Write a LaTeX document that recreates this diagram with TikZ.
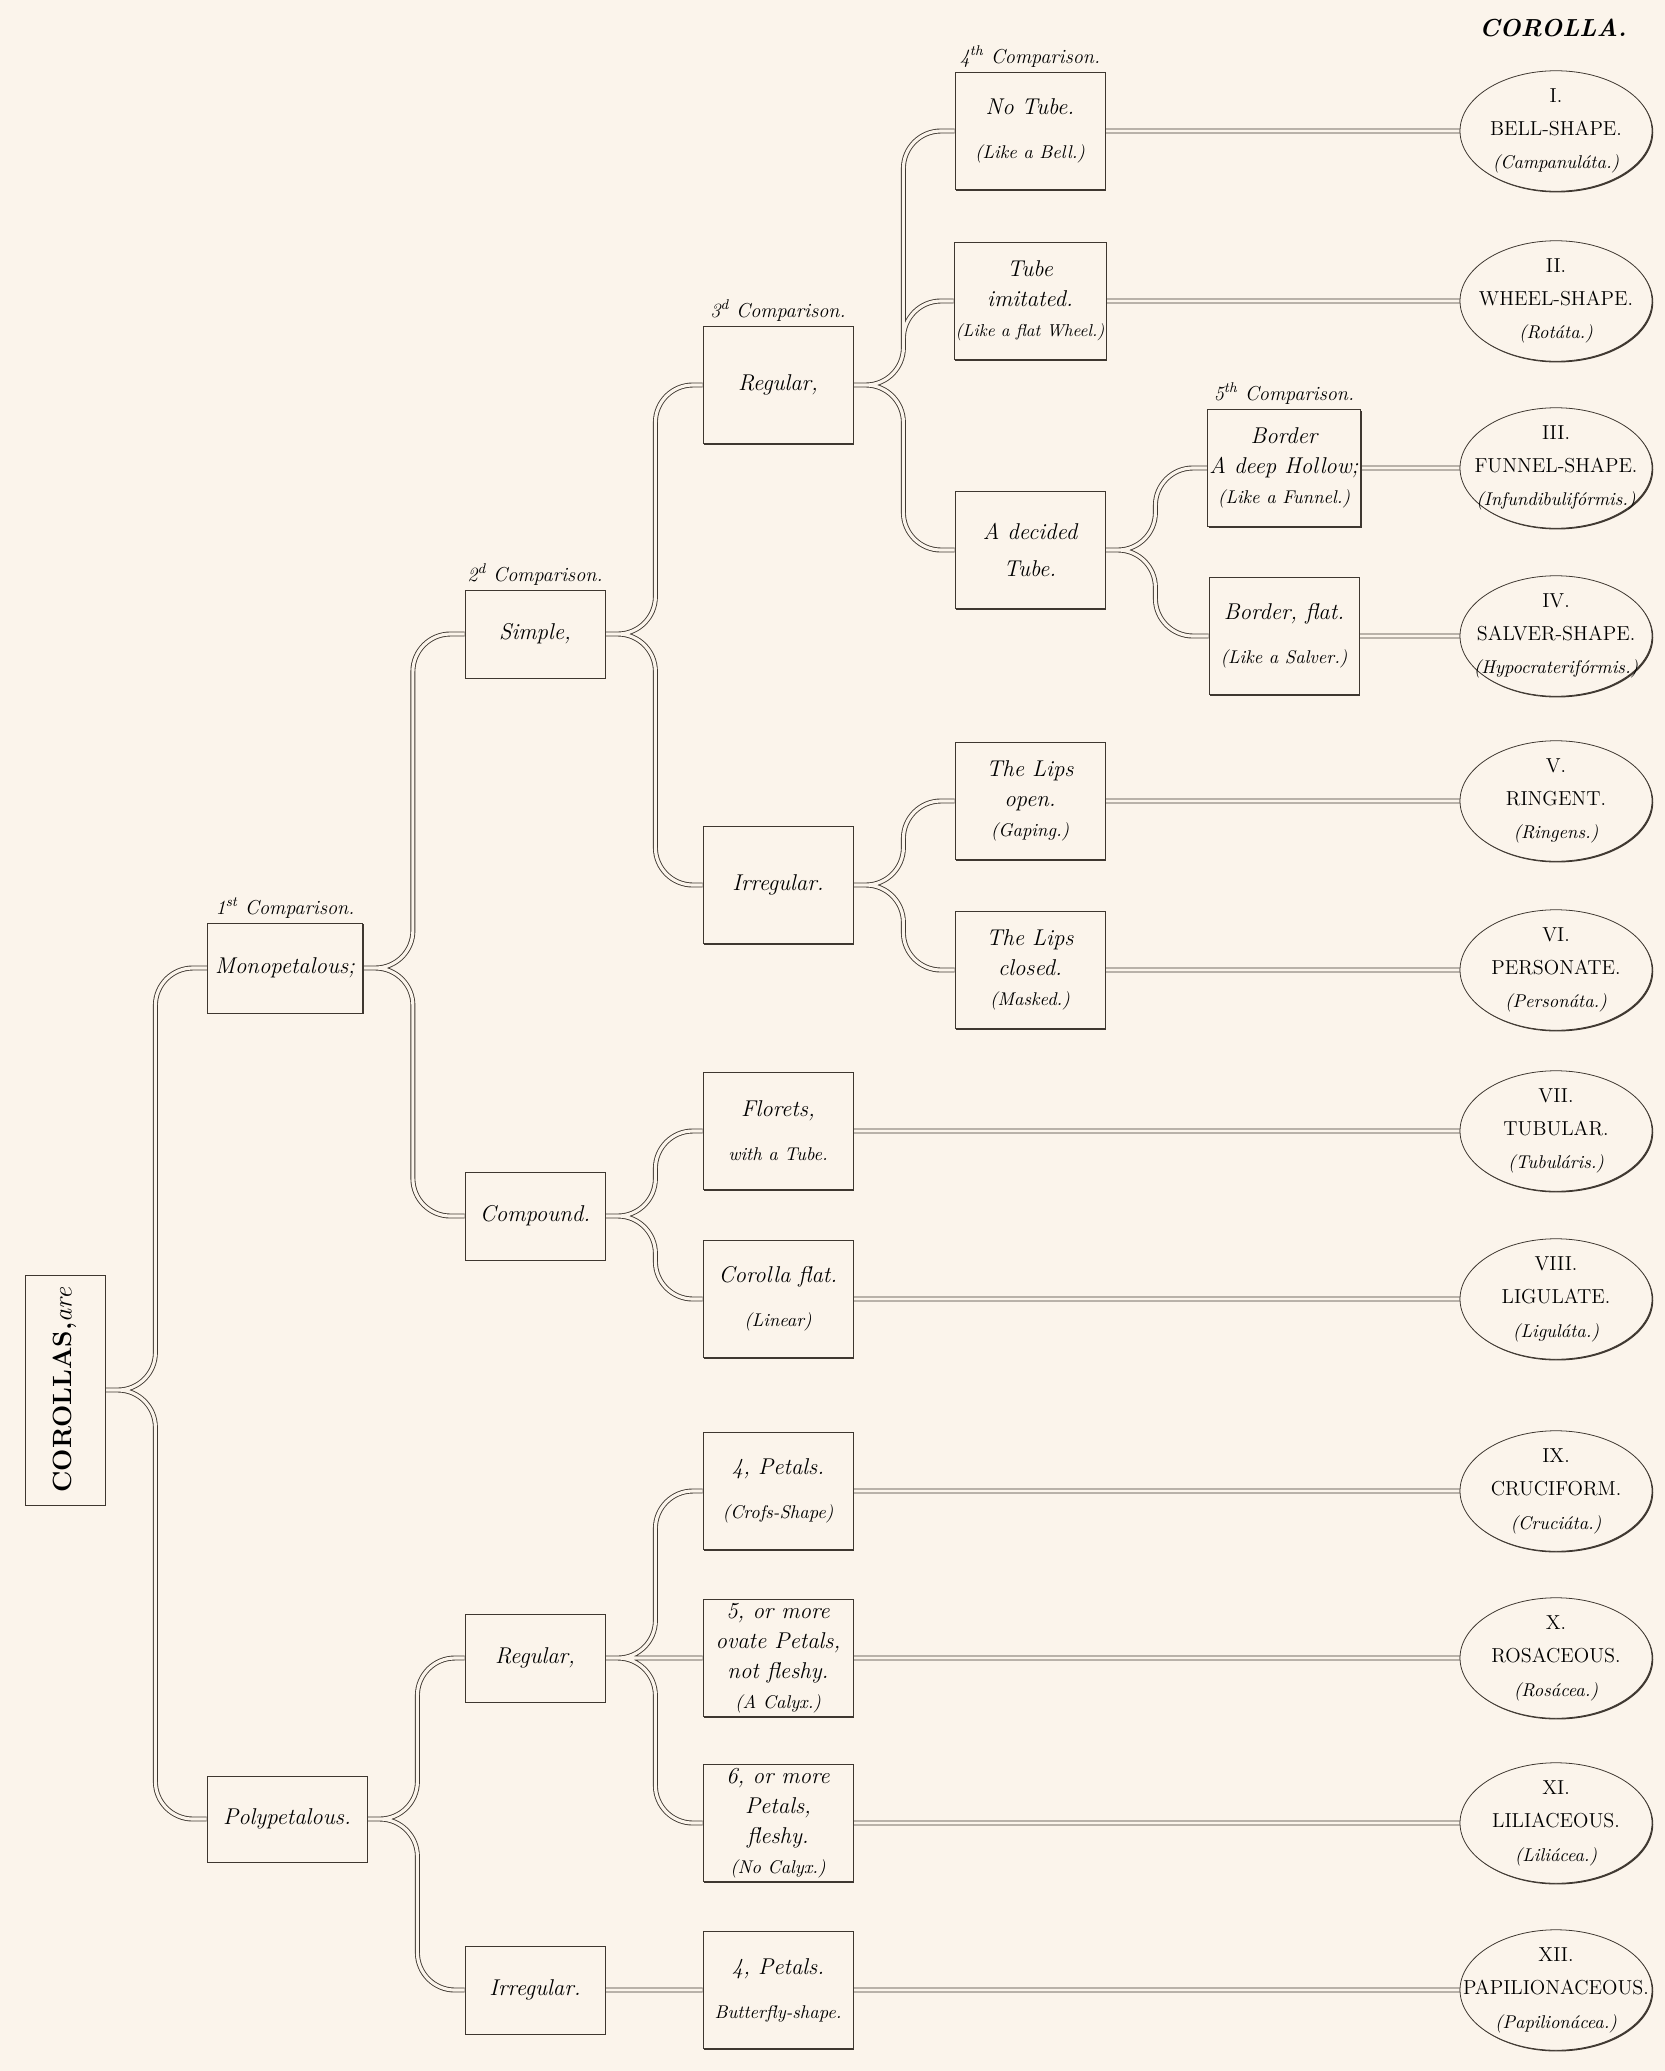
\documentclass[tikz,border=0pt]{standalone}
\usepackage{tikz}
\usetikzlibrary{positioning,shapes.geometric,shadows}
\definecolor{paper}{RGB}{251,244,235}
\definecolor{ink}{RGB}{62,55,48}
\newcommand{\gloss}[1]{{\fontsize{10.5}{16}\selectfont #1}}
\newcommand{\latinname}{\fontsize{10.5}{19}\selectfont}
% three centred lines that do not widen the oval
\newcommand{\kindlabel}[3]{\makebox[0pt]{#1}\\\makebox[0pt]{#2}\\\makebox[0pt]{\latinname\itshape(#3)}}
\pgfdeclarelayer{sheet}
\pgfdeclarelayer{links}
\pgfsetlayers{sheet,links,main}
\tikzset{
  engraved/.style={draw=ink, fill=paper, line width=0.45pt,
    drop shadow={shadow xshift=0.7pt, shadow yshift=-0.7pt, fill=ink, opacity=1}},
  box/.style={engraved, rectangle, minimum width=30mm, minimum height=23.4mm,
    inner sep=1pt, align=center, font=\fontsize{13}{17}\selectfont\itshape},
  smallbox/.style={box, minimum width=28mm, minimum height=17.6mm},
  kind/.style={engraved, ellipse, minimum width=38.4mm, minimum height=23.6mm,
    inner sep=0pt, align=center, font=\fontsize{11.5}{19}\selectfont},
  cmp/.style={font=\fontsize{11.5}{13}\selectfont\itshape, inner sep=1pt},
  link/.style={draw=ink, line width=0.5pt, double=paper, double distance=1.8pt,
    rounded corners=7.5mm},
}

\begin{document}
\begin{tikzpicture}[x=0.2mm, y=-0.2mm]
\useasboundingbox (0,0) rectangle (1665,2071);
\begin{pgfonlayer}{sheet}
\fill[paper] (0,0) rectangle (1665,2071);
\end{pgfonlayer}

\node[font=\fontsize{14}{16}\selectfont\bfseries\itshape] (title) at (1553,28) {COROLLA.};

% first column
\node[engraved, minimum width=16mm, minimum height=46mm, inner sep=0pt] (corollas) at (65,1390)
  {\rotatebox{90}{\fontsize{15}{17}\selectfont\bfseries COROLLAS,\textit{\mdseries are}}};

\node[smallbox, minimum width=31mm, minimum height=18mm] (mono) at (285,968) {Monopetalous;};
\node[smallbox, minimum width=32mm, minimum height=17.2mm] (poly) at (287,1819) {Polypetalous.};

\node[smallbox] (simple) at (535,634) {Simple,};
\node[smallbox] (compound) at (535,1216) {Compound.};
\node[smallbox] (regP) at (535,1658) {Regular,};
\node[smallbox] (irrP) at (535,1990) {Irregular.};

\node[box] (reg) at (778,385) {Regular,};
\node[box] (irr) at (778,885) {Irregular.};
\node[box] (florets) at (778,1131) {Florets,\\[8pt]\gloss{with a Tube.}};
\node[box] (flat) at (778,1299) {Corolla flat.\\[8pt]\gloss{(Linear)}};
\node[box] (cross) at (778,1491) {4, Petals.\\[8pt]\gloss{(Crofs-Shape)}};
\node[box] (ovate) at (778,1658) {5, or more\\ovate Petals,\\not fleshy.\\\gloss{(A Calyx.)}};
\node[box] (fleshy) at (778,1823) {6, or more\\Petals,\\fleshy.\\\gloss{(No Calyx.)}};
\node[box] (butterfly) at (778,1990) {4, Petals.\\[8pt]\gloss{Butterfly-shape.}};

\node[box] (notube) at (1030,131) {No Tube.\\[8pt]\gloss{(Like a Bell.)}};
\node[box] (imit) at (1030,301) {Tube\\imitated.\\{\fontsize{9.8}{16}\selectfont(Like a flat Wheel.)}};
\node[box] (decided) at (1030,550) {A decided\\[4pt]Tube.};
\node[box] (open) at (1030,801) {The Lips\\open.\\\gloss{(Gaping.)}};
\node[box] (closed) at (1030,970) {The Lips\\closed.\\\gloss{(Masked.)}};

\node[box] (hollow) at (1284,468) {Border\\A deep Hollow;\\\gloss{(Like a Funnel.)}};
\node[box] (salver) at (1284,636) {Border, flat.\\[8pt]\gloss{(Like a Salver.)}};

% comparisons
\node[cmp, above=0.5mm of mono] {1\textsuperscript{st} Comparison.};
\node[cmp, above=0.5mm of simple] {2\textsuperscript{d} Comparison.};
\node[cmp, above=0.5mm of reg] {3\textsuperscript{d} Comparison.};
\node[cmp, above=0.5mm of notube] {4\textsuperscript{th} Comparison.};
\node[cmp, above=0.5mm of hollow] {5\textsuperscript{th} Comparison.};

% the twelve kinds
\node[kind] (k1) at (1556,131) {\kindlabel{I.}{BELL-SHAPE.}{Campanul\'ata.}};
\node[kind] (k2) at (1556,301) {\kindlabel{II.}{WHEEL-SHAPE.}{Rot\'ata.}};
\node[kind] (k3) at (1556,468) {\kindlabel{III.}{FUNNEL-SHAPE.}{Infundibulif\'ormis.}};
\node[kind] (k4) at (1556,636) {\kindlabel{IV.}{SALVER-SHAPE.}{Hypocraterif\'ormis.}};
\node[kind] (k5) at (1556,801) {\kindlabel{V.}{RINGENT.}{Ringens.}};
\node[kind] (k6) at (1556,970) {\kindlabel{VI.}{PERSONATE.}{Person\'ata.}};
\node[kind] (k7) at (1556,1131) {\kindlabel{VII.}{TUBULAR.}{Tubul\'aris.}};
\node[kind] (k8) at (1556,1299) {\kindlabel{VIII.}{LIGULATE.}{Ligul\'ata.}};
\node[kind] (k9) at (1556,1491) {\kindlabel{IX.}{CRUCIFORM.}{Cruci\'ata.}};
\node[kind] (k10) at (1556,1658) {\kindlabel{X.}{ROSACEOUS.}{Ros\'acea.}};
\node[kind] (k11) at (1556,1823) {\kindlabel{XI.}{LILIACEOUS.}{Lili\'acea.}};
\node[kind] (k12) at (1556,1990) {\kindlabel{XII.}{PAPILIONACEOUS.}{Papilion\'acea.}};

\begin{pgfonlayer}{links}
\path[link] (corollas.east) -- ++(50,0) |- (mono.west)
            (corollas.east) -- ++(50,0) |- (poly.west);
\path[link] (mono.east) -- ++(50,0) |- (simple.west)
            (mono.east) -- ++(50,0) |- (compound.west);
\path[link] (poly.east) -- ++(50,0) |- (regP.west)
            (poly.east) -- ++(50,0) |- (irrP.west)
            (irrP.east) -- (butterfly.west)
            (butterfly.east) -- (k12.west);
\path[link] (simple.east) -- ++(50,0) |- (reg.west)
            (simple.east) -- ++(50,0) |- (irr.west);
\path[link] (compound.east) -- ++(50,0) |- (florets.west)
            (compound.east) -- ++(50,0) |- (flat.west)
            (florets.east) -- (k7.west)
            (flat.east) -- (k8.west);
\path[link] (regP.east) -- ++(50,0) |- (cross.west)
            (regP.east) -- (ovate.west)
            (regP.east) -- ++(50,0) |- (fleshy.west)
            (cross.east) -- (k9.west)
            (ovate.east) -- (k10.west)
            (fleshy.east) -- (k11.west);
\path[link] (reg.east) -- ++(50,0) |- (notube.west)
            (reg.east) -- ++(50,0) |- (imit.west)
            (reg.east) -- ++(50,0) |- (decided.west)
            (notube.east) -- (k1.west)
            (imit.east) -- (k2.west);
\path[link] (irr.east) -- ++(50,0) |- (open.west)
            (irr.east) -- ++(50,0) |- (closed.west)
            (open.east) -- (k5.west)
            (closed.east) -- (k6.west);
\path[link] (decided.east) -- ++(50,0) |- (hollow.west)
            (decided.east) -- ++(50,0) |- (salver.west)
            (hollow.east) -- (k3.west)
            (salver.east) -- (k4.west);
\end{pgfonlayer}
\end{tikzpicture}
\end{document}
